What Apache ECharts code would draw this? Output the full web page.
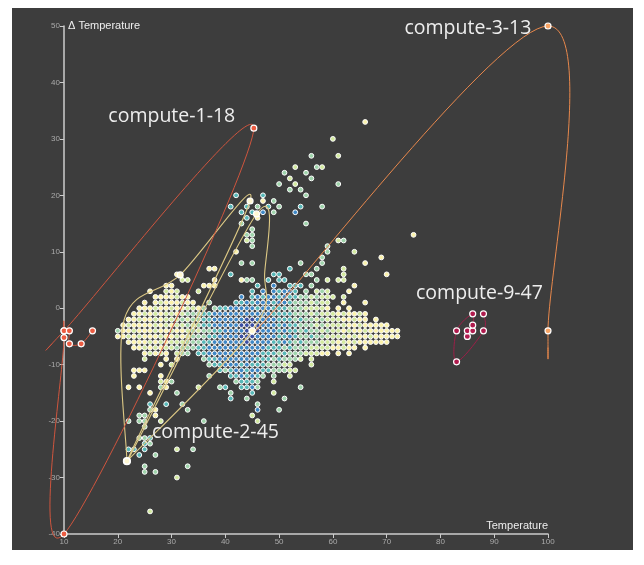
<!DOCTYPE html>
<html>
<head>
<meta charset="utf-8">
<script src="https://cdn.jsdelivr.net/npm/echarts@6/dist/echarts.min.js"></script>
<style>
  html, body { margin: 0; padding: 0; background: #ffffff; }
  #chart { position: absolute; left: 12px; top: 8px; width: 621px; height: 542px; }
</style>
</head>
<body>
<div id="chart"></div>
<script>
// Density cells per ΔT row. Columns start at 20 °C, one char per degree, spaces only group
// the columns by tens. '.' = empty cell, 1..6 = density level.
const cellRowsFrom = 20;
const cellRows = [
  [33, '.......... .......... .......... .......... ......1'],
  [30, '.......... .......... .......... .......... 2'],
  [27, '.......... .......... .......... ......3... .2'],
  [25, '.......... .......... .......... ...2...32.'],
  [24, '.......... .......... .......... .3...3'],
  [23, '.......... .......... .......... ..2...3'],
  [22, '.......... .......... .......... 3..2...... .3'],
  [21, '.......... .......... .......... ..3.3'],
  [20, '.......... .......... ..4....4.. .....3'],
  [19, '.......... .......... .......1.3'],
  [18, '.......... .......... .4..4.3.4. 3...4...3'],
  [17, '.......... .......... ...4.4.5.3 ...5'],
  [16, '.......... .......... ....4.1'],
  [15, '.......... .......... ...3...... .....3'],
  [14, '.......... .......... .....3'],
  [13, '.......... .......... ....33.... .......... .......... .....1'],
  [12, '.......... .......... ....23.... .......... .23'],
  [11, '.......... .......... .....3.... .........3'],
  [10, '.......... .......... ..1....... .........3 ....2'],
  [9,  '.......... .......... .......... ........3. .........1'],
  [8,  '.......... .......... ...3.3.... ....3...3. ......1'],
  [7,  '.......... .......11. .......... ..4....3.. ..2'],
  [6,  '.......... .1........ .4.......4 4....33... ..2....... 1'],
  [5,  '.......... ..22....1. ...133..4. 44.....3.2 .22'],
  [4,  '.........1 1.....111. ......4..5 ..444.3... ....1'],
  [3,  '......1..2 12...2.... .....4.5.5 4554.3.232 ...1'],
  [2,  '.......111 1211...... ...5.45455 4544332322 2.2'],
  [1,  '.....1.121 11211..3.. ..44545554 5543332322 ..1...1'],
  [0,  '....111211 2112213.34 4555554554 4433322221 .1.1'],
  [-1, '...1121212 2123334455 5555555554 4443332322 2121121'],
  [-2, '..11211212 2232334455 5555665555 4443433232 2211211.1'],
  [-3, '.121111212 1223234455 5556666555 4544333232 2221121111 1'],
  [-4, '3112111211 2112323344 5555666555 4544343323 2212112111 111'],
  [-5, '1121211121 1212333445 5556665555 4454334332 2221211211 111'],
  [-6, '..11112121 2223334455 5555655554 4543433322 2121211111 1'],
  [-7, '...1121212 2333344555 5555555544 4343332222 11211.1'],
  [-8, '.....12121 .233.44555 5555555444 3433322211 .1.1'],
  [-9, '.....2...1 .1....3445 5555554443 43332.2'],
  [-10, '........1. 2......344 5554544433 322...2'],
  [-11, '...111.... .........4 3455455443 3322'],
  [-12, '...1....1. .......3.. .4454543.3 ..2'],
  [-13, '........21 3......... ..34443..2'],
  [-14, '..1.1...31 .....2...3 4..4453... ....3'],
  [-15, '......1... .3........ .3...4...2'],
  [-16, '.......... .......... .4..3..... .3'],
  [-17, '......4..4 ..3....... ......3'],
  [-18, '......31.. ...3...... ......5... 3'],
  [-19, '....33.1.. .......... .....2'],
  [-20, '..3.33..2. ......3... ......2'],
  [-21, '.....3'],
  [-23, '....334'],
  [-24, '.....43'],
  [-25, '..44.4.... .2..3'],
  [-26, '....4..3'],
  [-28, '.....3.... ...3'],
  [-29, '.....3.3'],
  [-30, '.......... .2'],
  [-36, '......2']
];

// Density level colours, sparse to dense
const levelColors = ['#fbf3ac', '#d3eaa0', '#9fd4ab', '#58b8b8', '#3f88c6', '#3b4fa2'];

// Node trajectories: [temperature, ΔT] in time order
const node1 = [[7.8, -6.3], [10, -4], [45.3, 31.9], [10, -40], [10, -5.2], [10, -4], [11, -4], [11, -6.3], [13.2, -6.3], [15.3, -4]];
const node2 = [[21.7, -27.1], [21.2, -2], [31.6, 5.9], [44.6, 19], [21.7, -27.1], [45.8, 16.7], [47.3, 6], [45, -4], [21.7, -27.1]];
const node3 = [[45.2, -4.5], [100, 50], [100, -4], [100, -7]];
const node9 = [[85, -5], [85, -4], [86, -4], [86, -3], [86, -1], [83, -4], [83, -9.5], [88, -4], [88, -1]];

const xTicks = { min: 10, max: 100, step: 10 };
const yTicks = { min: -40, max: 50, step: 10 };

const cells = [];
cellRows.forEach(([y, s]) => {
  const cols = s.replace(/ /g, '');
  for (let i = 0; i < cols.length; i++) {
    if (cols[i] !== '.') cells.push([cellRowsFrom + i, y, +cols[i]]);
  }
});

// Cardinal (Catmull-Rom) curve through pixel points
function splinePath(P) {
  const f = (p) => p[0].toFixed(2) + ' ' + p[1].toFixed(2);
  let d = 'M ' + f(P[0]);
  for (let i = 0; i < P.length - 1; i++) {
    const p0 = P[i - 1] || P[i], p1 = P[i], p2 = P[i + 1], p3 = P[i + 2] || P[i + 1];
    const c1 = [p1[0] + (p2[0] - p0[0]) / 6, p1[1] + (p2[1] - p0[1]) / 6];
    const c2 = [p2[0] - (p3[0] - p1[0]) / 6, p2[1] - (p3[1] - p1[1]) / 6];
    d += ' C ' + f(c1) + ' ' + f(c2) + ' ' + f(p2);
  }
  return d;
}

const labelBase = { show: true, formatter: '{a}', color: '#eeeeee', fontSize: 19.5, fontFamily: 'Open Sans' };

function nodeSeries(name, points, lineColor, fill, opts) {
  const path = {
    name, type: 'custom', coordinateSystem: 'cartesian2d', z: 4, silent: true,
    data: points,
    renderItem: (params, api) => {
      if (params.dataIndex !== 0) return;
      const P = points.map((p) => api.coord(p));
      return {
        type: 'path', shape: { pathData: splinePath(P) },
        style: { fill: 'none', stroke: lineColor, lineWidth: opts.width || 1 }
      };
    }
  };
  const marks = {
    name, type: 'scatter', z: 6, symbol: 'circle',
    itemStyle: { color: fill, borderColor: '#ffffff', borderWidth: 1.2, opacity: 1 },
    data: points.map((p, i) => {
      const item = { value: p, symbolSize: (opts.bare || []).indexOf(i) >= 0 ? 0 : 6 };
      if (opts.bigAt === i) item.symbolSize = 7;
      if (opts.labelAt === i) item.label = Object.assign({}, labelBase, opts.label);
      return item;
    })
  };
  return [path, marks];
}

const chart = echarts.init(document.getElementById('chart'));
chart.setOption({
  backgroundColor: '#3d3d3d',
  animation: false,
  grid: { left: 52, top: 18, right: 85, bottom: 16 },
  xAxis: {
    type: 'value', min: xTicks.min, max: xTicks.max, interval: xTicks.step,
    name: 'Temperature', nameLocation: 'end', nameGap: 0,
    nameTextStyle: { color: '#eeeeee', fontSize: 11, align: 'right', verticalAlign: 'bottom', padding: [0, 0, 3, 0] },
    axisLine: { onZero: false, lineStyle: { color: '#cccccc', width: 1.5 } },
    axisTick: { length: 4, lineStyle: { color: '#cccccc' } },
    axisLabel: { color: '#aaaaaa', fontSize: 8, margin: 4 },
    splitLine: { show: false }
  },
  yAxis: {
    type: 'value', min: yTicks.min, max: yTicks.max, interval: yTicks.step,
    name: 'Δ Temperature', nameLocation: 'end', nameGap: 0,
    nameTextStyle: { color: '#eeeeee', fontSize: 11, align: 'left', verticalAlign: 'middle', padding: [0, 0, 0, 4] },
    axisLine: { onZero: false, lineStyle: { color: '#cccccc', width: 1.5 } },
    axisTick: { length: 4, lineStyle: { color: '#cccccc' } },
    axisLabel: { color: '#aaaaaa', fontSize: 8, margin: 4 },
    splitLine: { show: false }
  },
  visualMap: {
    show: false, type: 'piecewise', dimension: 2, seriesIndex: 0,
    pieces: levelColors.map((c, i) => ({ value: i + 1, color: c }))
  },
  series: [
    {
      type: 'scatter', symbolSize: 4.8, z: 2,
      itemStyle: { borderColor: '#ffffff', borderWidth: 1, opacity: 1 },
      data: cells
    }
  ].concat(
    nodeSeries('compute-2-45', node2, '#ddc985', '#fff8d2', { bare: [1, 6, 8], bigAt: 0, labelAt: 0, width: 1.1, label: { position: 'right', offset: [16, -29] } }),
    nodeSeries('compute-1-18', node1, '#cf553d', '#ec5c42', { bare: [0], labelAt: 2, label: { position: 'left', offset: [-10, -12] } }),
    nodeSeries('compute-3-13', node3, '#e8884c', '#f8a464', { bare: [0, 3], labelAt: 1, label: { position: 'left', offset: [-8, 2] } }),
    nodeSeries('compute-9-47', node9, '#9c1f48', '#b01b4e', { labelAt: 8, label: { position: 'top', offset: [-4, -2] } })
  )
});
</script>
</body>
</html>
